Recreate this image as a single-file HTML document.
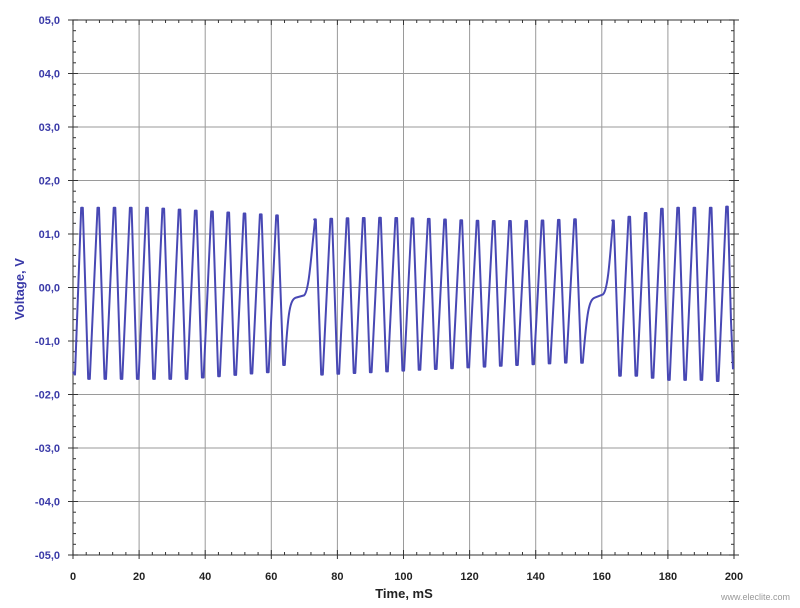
<!DOCTYPE html>
<html><head><meta charset="utf-8"><style>
body{margin:0;background:#fff;width:800px;height:608px;overflow:hidden}
svg{display:block}
</style></head><body>
<svg id="s" width="800" height="608" xmlns="http://www.w3.org/2000/svg" font-family="Liberation Sans, sans-serif">
<rect width="800" height="608" fill="#fff"/>
<g id="grid" stroke="#9a9a9a" stroke-width="1"></g>
<rect x="73" y="20" width="661" height="535" fill="none" stroke="#555" stroke-width="1.2"/>
<g id="ticks" stroke="#333" stroke-width="1"></g>
<g id="yl" fill="#3a3aa8" font-size="11" font-weight="bold" text-anchor="end"></g>
<g id="xl" fill="#222" font-size="11" font-weight="bold" text-anchor="middle"></g>
<text x="404" y="598" font-size="13" font-weight="bold" fill="#222" text-anchor="middle">Time, mS</text>
<text transform="translate(24,289) rotate(-90)" font-size="13" font-weight="bold" fill="#3a3aa8" text-anchor="middle">Voltage, V</text>
<text x="790" y="600" font-size="9" fill="#999" text-anchor="end">www.eleclite.com</text>
<path id="w" fill="none" stroke="#4848b4" stroke-width="2" stroke-linejoin="round"/>
</svg>
<script>
var ns="http://www.w3.org/2000/svg";
function el(p,t,a){var e=document.createElementNS(ns,t);for(var k in a)e.setAttribute(k,a[k]);document.getElementById(p).appendChild(e);return e;}
var X0=73,X1=734,Y0=20,Y1=555;
function yv(v){return (289-v*53.5).toFixed(1);}
function xt(t){return X0+(X1-X0)*t/200;}
var yl=["05,0","04,0","03,0","02,0","01,0","00,0","-01,0","-02,0","-03,0","-04,0","-05,0"];
for(var i=0;i<=10;i++){var y=Y0+(Y1-Y0)*i/10;
 el("grid","line",{x1:X0,x2:X1,y1:y,y2:y});
 el("ticks","line",{x1:X0-5,x2:X0+5,y1:y,y2:y});el("ticks","line",{x1:X1-5,x2:X1+5,y1:y,y2:y});
 var t=el("yl","text",{x:60,y:y+4});t.textContent=yl[i];
 if(i<10)for(var j=1;j<5;j++){var yy=y+(Y1-Y0)/10*j/5;el("ticks","line",{x1:X0,x2:X0+3,y1:yy,y2:yy});el("ticks","line",{x1:X1-3,x2:X1,y1:yy,y2:yy});}
}
for(var i=0;i<=10;i++){var x=xt(i*20);
 el("grid","line",{x1:x,x2:x,y1:Y0,y2:Y1});
 el("ticks","line",{x1:x,x2:x,y1:Y1-5,y2:Y1+4});el("ticks","line",{x1:x,x2:x,y1:Y0,y2:Y0+5});
 var t=el("xl","text",{x:x,y:580});t.textContent=i*20;
 if(i<10)for(var j=1;j<5;j++){var xx=x+(X1-X0)/10*j/5;el("ticks","line",{x1:xx,x2:xx,y1:Y1-3,y2:Y1});el("ticks","line",{x1:xx,x2:xx,y1:Y0,y2:Y0+3});}
}
var d="M73,"+yv(-1.55)+" L75,"+yv(-1.6);
function seg(x0,x1,n,pa,ta,lastTrough){var sp=(x1-x0)/(n-1);
 for(var i=0;i<n;i++){var p=x0+sp*i;
  d+=" L"+(p-0.8).toFixed(1)+","+yv(pa(i))+" L"+(p+0.8).toFixed(1)+","+yv(pa(i));
  if(i<n-1||lastTrough!==undefined){var tv=i<n-1?ta(i):lastTrough;var tr=p+7;
   d+=" L"+(tr-0.8).toFixed(1)+","+yv(tv)+" L"+(tr+0.8).toFixed(1)+","+yv(tv);}}}
seg(82,277,13,function(i){return 1.52-0.018*Math.max(0,i-4);},function(i){return -1.68+0.025*Math.max(0,i-6);},-1.42);
d+=" C288,"+yv(-0.4)+" 290,"+yv(-0.2)+" 296,"+yv(-0.16)+" L304,"+yv(-0.12)+" C309,"+yv(-0.05)+" 311,"+yv(0.6)+" 315,"+yv(1.28);
seg(315,575,17,function(i){return 1.3+0.03*Math.sin(i/2.5);},function(i){return -1.6+0.015*i;},-1.38);
d+=" C587,"+yv(-0.4)+" 589,"+yv(-0.2)+" 595,"+yv(-0.16)+" L603,"+yv(-0.1)+" C608,"+yv(-0.02)+" 610,"+yv(0.6)+" 613,"+yv(1.28);
seg(613,727,8,function(i){return [1.28,1.35,1.42,1.5,1.52,1.52,1.52,1.54][i];},function(i){return [-1.62,-1.62,-1.66,-1.7,-1.7,-1.7,-1.72][i];});
d+=" L731,"+yv(-0.6)+" L733,"+yv(-1.5);
document.getElementById("w").setAttribute("d",d);
</script>
</body></html>
